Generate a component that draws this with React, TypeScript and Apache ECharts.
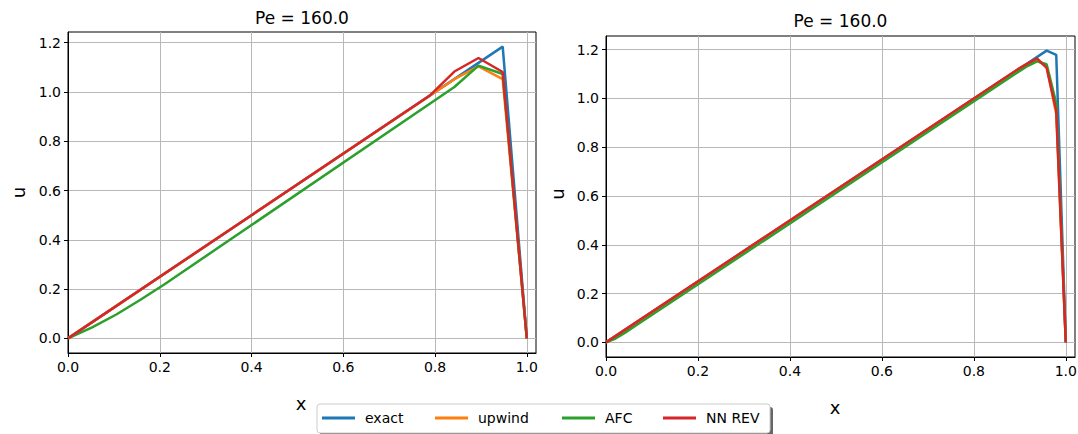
import React, { useEffect, useRef } from "react";
import * as echarts from "echarts";

// ---- data ----
const SERIES_NAMES = ["exact", "upwind", "AFC", "NN REV"];
const SERIES_COLORS = ["#1f77b4", "#ff7f0e", "#2ca02c", "#d62728"];
const TITLE_LEFT = "Pe = 160.0";
const TITLE_RIGHT = "Pe = 160.0";
const X_TICKS = [0, 0.2, 0.4, 0.6, 0.8, 1.0];
const Y_TICKS = [0, 0.2, 0.4, 0.6, 0.8, 1.0, 1.2];

// left panel (coarse mesh)
const L_EXACT_X = [0, 0.9474, 1];
const L_EXACT_Y = [0, 1.184, 0];
const L_UPWIND_X = [0, 0.8421, 0.8947, 0.9474, 1];
const L_UPWIND_Y = [0, 1.052, 1.104, 1.052, 0];
const L_AFC_X = [0, 0.0526, 0.1053, 0.1579, 0.2105, 0.8421, 0.8947, 0.9474, 1];
const L_AFC_Y = [0, 0.045, 0.097, 0.157, 0.22, 1.02, 1.107, 1.073, 0];
const L_NN_X = [0, 0.7895, 0.8421, 0.8947, 0.9474, 1];
const L_NN_Y = [0, 0.987, 1.083, 1.138, 1.081, 0];

// right panel (fine mesh)
const R_EXACT_X = [0, 0.9583, 0.9792, 1];
const R_EXACT_Y = [0, 1.196, 1.179, 0];
const R_UPWIND_X = [0, 0.8958, 0.9167, 0.9375, 0.9583, 0.9792, 1];
const R_UPWIND_Y = [0, 1.119, 1.142, 1.156, 1.131, 0.935, 0];
const R_AFC_X = [0, 0.0208, 0.0417, 0.0625, 0.8958, 0.9167, 0.9375, 0.9583, 0.9792, 1];
const R_AFC_Y = [0, 0.016, 0.04, 0.066, 1.108, 1.133, 1.152, 1.14, 0.98, 0];
const R_NN_X = [0, 0.8958, 0.9167, 0.9375, 0.9583, 0.9792, 1];
const R_NN_Y = [0, 1.12, 1.143, 1.164, 1.125, 0.95, 0];

const FONT = "DejaVu Sans";

function pairs(xs: number[], ys: number[]) {
  return xs.map((v, i) => [v, ys[i]]);
}

function makeXAxis(gridIndex: number) {
  return {
    type: "value",
    gridIndex,
    min: 0,
    max: 1.02,
    splitNumber: 5,
    axisLine: { show: true, onZero: false, lineStyle: { color: "#000", width: 1 } },
    axisTick: { show: true, inside: false, length: 4, lineStyle: { color: "#000", width: 1 }, customValues: X_TICKS },
    axisLabel: {
      show: true,
      margin: 7,
      color: "#000",
      fontFamily: FONT,
      fontSize: 14,
      customValues: X_TICKS,
      formatter: (v: number) => v.toFixed(1),
    },
    splitLine: { show: true, lineStyle: { color: "#b8b8b8", width: 1 } },
  };
}

function makeYAxis(gridIndex: number, min: number, max: number) {
  return {
    type: "value",
    gridIndex,
    min,
    max,
    splitNumber: 6,
    axisLine: { show: true, onZero: false, lineStyle: { color: "#000", width: 1 } },
    axisTick: { show: true, inside: false, length: 4, lineStyle: { color: "#000", width: 1 }, customValues: Y_TICKS },
    axisLabel: {
      show: true,
      margin: 7,
      color: "#000",
      fontFamily: FONT,
      fontSize: 14,
      customValues: Y_TICKS,
      formatter: (v: number) => v.toFixed(1),
    },
    splitLine: { show: true, lineStyle: { color: "#b8b8b8", width: 1 } },
  };
}

function makeSeries(name: string, color: string, idx: number, data: number[][]) {
  return {
    type: "line",
    name,
    xAxisIndex: idx,
    yAxisIndex: idx,
    data,
    symbol: "none",
    showSymbol: false,
    color,
    lineStyle: { color, width: 2.5 },
    itemStyle: { color },
    emphasis: { disabled: true },
    clip: true,
  };
}

export default function App() {
  const ref = useRef<HTMLDivElement>(null);

  useEffect(() => {
    document.body.style.margin = "0";
    if (!ref.current) return;
    const chart = echarts.init(ref.current, undefined, { renderer: "svg" });

    const leftData = [
      pairs(L_EXACT_X, L_EXACT_Y),
      pairs(L_UPWIND_X, L_UPWIND_Y),
      pairs(L_AFC_X, L_AFC_Y),
      pairs(L_NN_X, L_NN_Y),
    ];
    const rightData = [
      pairs(R_EXACT_X, R_EXACT_Y),
      pairs(R_UPWIND_X, R_UPWIND_Y),
      pairs(R_AFC_X, R_AFC_Y),
      pairs(R_NN_X, R_NN_Y),
    ];

    const series: any[] = [];
    SERIES_NAMES.forEach((n, i) => series.push(makeSeries(n, SERIES_COLORS[i], 0, leftData[i])));
    SERIES_NAMES.forEach((n, i) => series.push(makeSeries(n, SERIES_COLORS[i], 1, rightData[i])));

    const legendLefts = [322, 435, 562, 663];
    const legends = SERIES_NAMES.map((n, i) => ({
      show: true,
      data: [n],
      left: legendLefts[i],
      top: 411,
      padding: 0,
      orient: "horizontal",
      icon: "rect",
      itemWidth: 33,
      itemHeight: 3,
      textStyle: { fontFamily: FONT, fontSize: 14, color: "#000", padding: [0, 0, 0, 5] },
      selectedMode: false,
    }));

    const textEl = (text: string, x: number, y: number, size: number, rotation = 0) => ({
      type: "text",
      x,
      y,
      rotation,
      silent: true,
      style: {
        text,
        textAlign: "center",
        textVerticalAlign: "middle",
        fontFamily: FONT,
        fontSize: size,
        fill: "#000",
      },
    });

    chart.setOption({
      animation: false,
      backgroundColor: "#fff",
      grid: [
        { left: 68, top: 32, width: 468, height: 321, show: true, borderColor: "#000", borderWidth: 1, backgroundColor: "transparent", containLabel: false, outerBoundsMode: "none" },
        { left: 606, top: 36, width: 469, height: 321, show: true, borderColor: "#000", borderWidth: 1, backgroundColor: "transparent", containLabel: false, outerBoundsMode: "none" },
      ],
      xAxis: [makeXAxis(0), makeXAxis(1)],
      yAxis: [makeYAxis(0, -0.0592, 1.2434), makeYAxis(1, -0.0598, 1.256)],
      legend: legends,
      tooltip: { show: false },
      graphic: [
        {
          type: "rect",
          silent: true,
          z: 0,
          shape: { x: 320, y: 407, width: 453, height: 30, r: 3 },
          style: { fill: "#666" },
        },
        {
          type: "rect",
          silent: true,
          z: 1,
          shape: { x: 317, y: 404, width: 453, height: 29, r: 3 },
          style: { fill: "#fff", stroke: "#cccccc", lineWidth: 1 },
        },
        textEl(TITLE_LEFT, 302, 17.5, 17),
        textEl(TITLE_RIGHT, 840.5, 20.5, 17),
        textEl("u", 18, 192.5, 18, Math.PI / 2),
        textEl("u", 557.5, 194, 18, Math.PI / 2),
        textEl("x", 301, 403.5, 18),
        textEl("x", 835, 407, 18),
      ],
      series,
    });

    return () => chart.dispose();
  }, []);

  return <div ref={ref} style={{ width: 1078, height: 434 }} />;
}
